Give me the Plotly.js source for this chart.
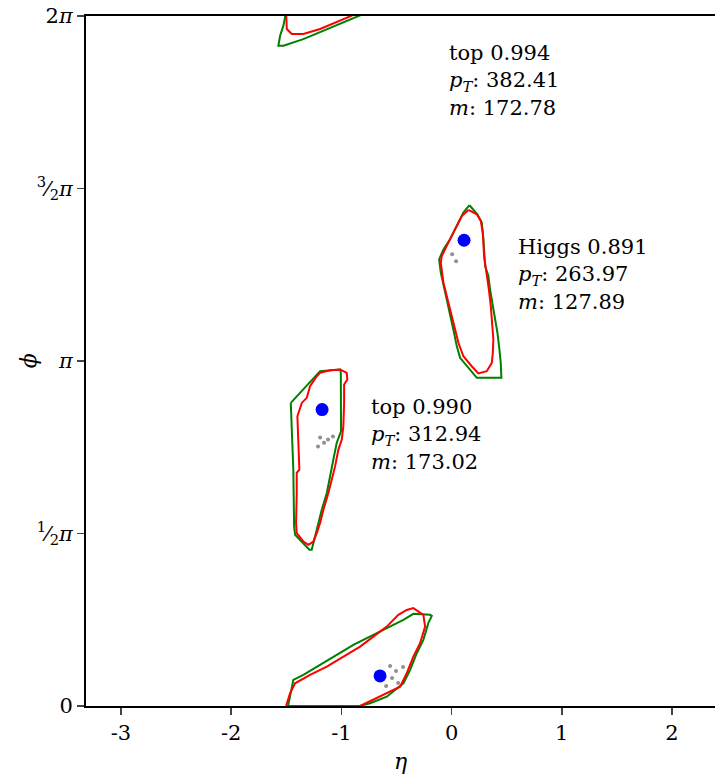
<!DOCTYPE html>
<html>
<head>
<meta charset="utf-8">
<script src="https://cdn.plot.ly/plotly-3.0.1.min.js"></script>
<style>html,body{margin:0;padding:0;background:#fff;}#chart{width:715px;height:779px;}</style>
</head>
<body>
<div id="chart"></div>
<script>
// ---- data (eta, phi) ----
var PI = Math.PI;
// jet axes (blue dots)
var jetEta = [0.113, -1.175, -0.649];
var jetPhi = [4.241, 2.699, 0.274];

// Higgs jet contours
var higgsGreenEta = [0.162,0.234,0.274,0.289,0.304,0.334,0.349,0.374,0.395,0.416,0.434,0.446,0.452,0.229,0.077,0.047,0.016,-0.029,-0.059,-0.098,-0.113,-0.074,-0.014,0.047,0.107,0.162];
var higgsGreenPhi = [4.560,4.477,4.402,4.250,4.006,3.915,3.794,3.641,3.520,3.399,3.246,3.125,2.988,2.988,3.171,3.277,3.429,3.641,3.794,3.946,4.067,4.158,4.250,4.371,4.493,4.560];
var higgsRedEta = [0.152,0.229,0.265,0.283,0.295,0.319,0.338,0.356,0.365,0.379,0.374,0.365,0.319,0.243,0.183,0.107,0.062,0.016,-0.029,-0.074,-0.098,-0.089,-0.029,0.032,0.093,0.152];
var higgsRedPhi = [4.517,4.477,4.416,4.313,4.097,3.946,3.794,3.641,3.490,3.338,3.216,3.125,3.049,3.028,3.094,3.185,3.308,3.490,3.672,3.855,4.037,4.097,4.219,4.341,4.462,4.517];

// top 0.990 jet contours
var topAGreenEta = [-1.459,-1.193,-1.012,-1.005,-1.003,-1.042,-1.073,-1.103,-1.132,-1.178,-1.209,-1.239,-1.269,-1.290,-1.420,-1.429,-1.436,-1.459];
var topAGreenPhi = [2.760,3.049,3.064,3.034,2.501,2.396,2.243,2.091,1.940,1.787,1.666,1.544,1.423,1.423,1.559,1.635,2.152,2.760];
var topARedEta = [-1.193,-1.103,-1.012,-0.951,-0.946,-0.975,-0.975,-0.982,-0.996,-1.027,-1.057,-1.087,-1.118,-1.163,-1.193,-1.223,-1.254,-1.299,-1.345,-1.405,-1.411,-1.405,-1.405,-1.381,-1.390,-1.399,-1.359,-1.314,-1.284,-1.223,-1.193];
var topARedPhi = [3.034,3.058,3.064,3.034,2.973,2.927,2.760,2.547,2.426,2.335,2.182,2.061,1.940,1.787,1.666,1.575,1.498,1.468,1.498,1.575,1.666,1.940,2.122,2.152,2.396,2.638,2.760,2.806,2.912,3.003,3.034];

// top 0.994 jet (wraps across phi = 2pi)
var topBGreenEta = [-1.508,-1.511,-1.526,-1.556,-1.572,-1.526,-1.345,-1.163,-0.982,-0.830,-0.780];
var topBGreenPhi = [6.350,6.271,6.195,6.103,6.012,6.012,6.073,6.149,6.226,6.286,6.310];
var topBRedEta = [-1.503,-1.502,-1.495,-1.450,-1.345,-1.193,-1.042,-0.906,-0.850];
var topBRedPhi = [6.350,6.286,6.165,6.119,6.119,6.165,6.226,6.286,6.320];

// top jet near phi = 0
var topCGreenEta = [-0.830,-0.740,-0.588,-0.437,-0.377,-0.316,-0.256,-0.211,-0.180,-0.195,-0.347,-0.437,-0.588,-0.740,-0.891,-1.042,-1.193,-1.345,-1.436,-1.450,-1.466,-1.484,-0.830];
var topCGreenPhi = [0.000,0.025,0.085,0.207,0.328,0.481,0.602,0.754,0.821,0.830,0.839,0.784,0.709,0.632,0.556,0.465,0.374,0.283,0.237,0.146,0.085,0.000,0.000];
var topCRedEta = [-1.502,-1.466,-1.420,-1.284,-1.132,-0.982,-0.830,-0.710,-0.588,-0.483,-0.407,-0.347,-0.301,-0.256,-0.240,-0.286,-0.347,-0.407,-0.467,-0.588,-0.710,-0.830,-1.502];
var topCRedPhi = [0.000,0.116,0.207,0.283,0.359,0.450,0.541,0.632,0.723,0.830,0.875,0.891,0.860,0.830,0.723,0.572,0.450,0.298,0.176,0.116,0.055,0.000,0.000];

// dense particle clusters inside jets
var clusterEta = [-0.558,-0.504,-0.540,-0.485,-0.594,-0.440,-1.193,-1.157,-1.121,-1.076,-1.212,0.005,0.041];
var clusterPhi = [0.365,0.319,0.255,0.210,0.182,0.356,2.444,2.398,2.426,2.453,2.362,4.113,4.049];

// annotation labels
var labelText = [
  'top 0.994<br><i>p</i><sub><i>T</i></sub>: 382.41<br><i>m</i>: 172.78',
  'Higgs 0.891<br><i>p</i><sub><i>T</i></sub>: 263.97<br><i>m</i>: 127.89',
  'top 0.990<br><i>p</i><sub><i>T</i></sub>: 312.94<br><i>m</i>: 173.02'
];
var labelEta = [-0.041, 0.585, -0.749];
var labelPhi = [6.073, 4.304, 2.846];

var xTickVals = [-3,-2,-1,0,1,2];
var xTickText = ['-3','-2','-1','0','1','2'];
var yTickVals = [0, PI/2, PI, 3*PI/2, 2*PI];
var yTickText = ['0','<sup>1</sup>⁄<sub>2</sub><i>π</i>','<i>π</i>','<sup>3</sup>⁄<sub>2</sub><i>π</i>','2<i>π</i>'];

// ---- traces ----
function line(x, y, color){
  return {x:x, y:y, type:'scatter', mode:'lines', line:{color:color, width:2}, hoverinfo:'skip', showlegend:false};
}
var traces = [
  {x:clusterEta, y:clusterPhi, type:'scatter', mode:'markers', marker:{size:4, color:'rgba(70,70,70,0.6)'}, showlegend:false, hoverinfo:'skip'},
  line(higgsGreenEta, higgsGreenPhi, '#008000'),
  line(topAGreenEta, topAGreenPhi, '#008000'),
  line(topBGreenEta, topBGreenPhi, '#008000'),
  line(topCGreenEta, topCGreenPhi, '#008000'),
  line(higgsRedEta, higgsRedPhi, '#ff0000'),
  line(topARedEta, topARedPhi, '#ff0000'),
  line(topBRedEta, topBRedPhi, '#ff0000'),
  line(topCRedEta, topCRedPhi, '#ff0000'),
  {x:jetEta, y:jetPhi, type:'scatter', mode:'markers', marker:{size:13, color:'#0000ff'}, showlegend:false, hoverinfo:'skip'}
];

var font = 'DejaVu Serif, serif';
var annotations = labelText.map(function(t, i){
  return {x:labelEta[i], y:labelPhi[i], xref:'x', yref:'y', text:t, showarrow:false,
          xanchor:'left', yanchor:'top', align:'left', font:{family:font, size:21, color:'#000'}};
});
// y-axis title (rotated, placed like the reference)
annotations.push({xref:'paper', yref:'paper', x:-0.092, y:0.5, xanchor:'center', yanchor:'middle',
  text:'<i>ϕ</i>', textangle:-90, showarrow:false, font:{family:font, size:22, color:'#000'}});

var layout = {
  width:715, height:779,
  margin:{l:86, r:0, t:16, b:73},
  paper_bgcolor:'#fff', plot_bgcolor:'#fff',
  font:{family:font, size:21, color:'#000'},
  xaxis:{range:[-3.317, 2.39], tickvals:xTickVals, ticktext:xTickText, ticks:'outside', ticklen:7, tickwidth:1.5,
         showline:true, linecolor:'#000', linewidth:2, mirror:true, showgrid:false, zeroline:false,
         tickfont:{family:font, size:21}, title:{text:'<i>η</i>', font:{family:font, size:22}, standoff:9}},
  yaxis:{range:[0, 2*PI], tickvals:yTickVals, ticktext:yTickText, ticks:'outside', ticklen:7, tickwidth:1.5,
         showline:true, linecolor:'#000', linewidth:2, showgrid:false, zeroline:false,
         tickfont:{family:font, size:21}},
  annotations:annotations
};

Plotly.newPlot('chart', traces, layout, {staticPlot:true, displayModeBar:false});
</script>
</body>
</html>
